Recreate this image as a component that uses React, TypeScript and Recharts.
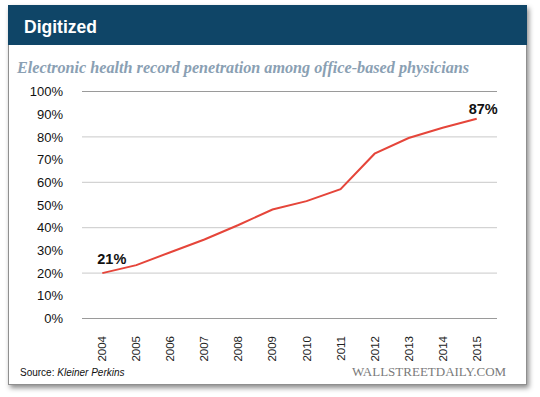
import { CartesianGrid, LabelList, Line, LineChart, ReferenceLine, XAxis, YAxis } from 'recharts'

const years = ['2004', '2005', '2006', '2007', '2008', '2009', '2010', '2011', '2012', '2013', '2014', '2015']
const penetration = [20, 23.5, 29.2, 34.8, 41.2, 48, 51.7, 57, 72.6, 79.5, 84, 88]
const callouts = ['21%', '', '', '', '', '', '', '', '', '', '', '87%']
const yTicks = [0, 10, 20, 30, 40, 50, 60, 70, 80, 90, 100]

const data = years.map((year, i) => ({ year, value: penetration[i], callout: callouts[i] }))

const SANS = '"Liberation Sans", Arial, sans-serif'
const SERIF = '"Liberation Serif", Georgia, serif'
const NAVY = '#0f4567'
const LINE_RED = '#e5453a'
const GRID = '#c9c9c9'
const EDGE = '#9a9a9a'

function YearTick({ x, y, payload }: any) {
  return (
    <text
      x={x + 4}
      y={y + 9.5}
      transform={`rotate(-90, ${x + 4}, ${y + 9.5})`}
      textAnchor="end"
      fontSize={11.5}
      fontFamily={SANS}
      fill="#222"
    >
      {payload.value}
    </text>
  )
}

function Callout({ x, y, index }: any) {
  const text = callouts[index]
  if (!text) return null
  const first = index === 0
  return (
    <text
      x={first ? x - 5 : x - 8}
      y={first ? y - 9 : y - 5}
      fontSize={14.5}
      fontWeight="bold"
      fontFamily={SANS}
      fill="#111"
    >
      {text}
    </text>
  )
}

export default function App() {
  return (
    <div style={{ position: 'fixed', left: 0, top: 0, width: 540, height: 397, background: '#fff' }}>
      <div
        style={{
          position: 'absolute',
          left: 8,
          top: 5,
          width: 517,
          height: 378,
          background: '#fff',
          border: '1px solid #8f8f8f',
          boxShadow: '2px 3px 5px rgba(0,0,0,0.45)',
        }}
      />
      <div
        style={{
          position: 'absolute',
          left: 8,
          top: 5,
          width: 519,
          height: 40,
          background: NAVY,
        }}
      />
      <div
        style={{
          position: 'absolute',
          left: 24,
          top: 17,
          color: '#fff',
          fontFamily: SANS,
          fontWeight: 'bold',
          fontSize: 17.5,
          lineHeight: '20px',
        }}
      >
        Digitized
      </div>
      <div
        style={{
          position: 'absolute',
          left: 17,
          top: 58,
          color: '#8aa0b3',
          fontFamily: SERIF,
          fontWeight: 'bold',
          fontStyle: 'italic',
          fontSize: 16.2,
          lineHeight: '20px',
          whiteSpace: 'nowrap',
        }}
      >
        Electronic health record penetration among office-based physicians
      </div>
      <div style={{ position: 'absolute', left: 0, top: 0 }}>
        <LineChart width={540} height={397} data={data} margin={{ top: 91.5, right: 43, bottom: 38.5, left: 0 }}>
          <CartesianGrid stroke={GRID} vertical={false} />
          <XAxis
            dataKey="year"
            height={40}
            axisLine={false}
            tickLine={false}
            interval={0}
            padding={{ left: 20.3, right: 20.3 }}
            tick={<YearTick />}
          />
          <YAxis
            width={82}
            domain={[0, 100]}
            ticks={yTicks}
            axisLine={false}
            tickLine={false}
            tickSize={0}
            tickMargin={19}
            tickFormatter={(v: number) => `${v}%`}
            tick={{ fill: '#111', fontSize: 13, fontFamily: SANS }}
          />
          <ReferenceLine y={0} stroke={EDGE} strokeWidth={1.2} />
          <ReferenceLine y={100} stroke={EDGE} strokeWidth={1.2} />
          <Line
            type="linear"
            dataKey="value"
            stroke={LINE_RED}
            strokeWidth={2}
            dot={false}
            isAnimationActive={false}
          >
            <LabelList dataKey="callout" content={<Callout />} />
          </Line>
        </LineChart>
      </div>
      <div
        style={{
          position: 'absolute',
          left: 20,
          top: 367,
          fontFamily: SANS,
          fontSize: 10,
          lineHeight: '12px',
          color: '#111',
        }}
      >
        Source: <i>Kleiner Perkins</i>
      </div>
      <div
        style={{
          position: 'absolute',
          left: 352,
          top: 364,
          fontFamily: SERIF,
          fontSize: 13,
          lineHeight: '16px',
          color: '#7a7a7a',
        }}
      >
        WALLSTREETDAILY.COM
      </div>
    </div>
  )
}
